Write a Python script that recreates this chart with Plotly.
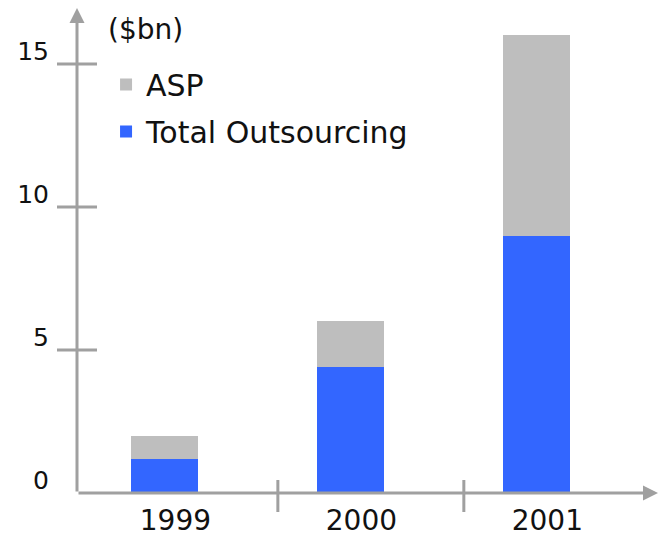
import plotly.graph_objects as go

years = ["1999", "2000", "2001"]
total_outsourcing = [1.2, 4.4, 9.0]
asp = [0.8, 1.6, 7.0]
y_ticks = [0, 5, 10, 15]
y_tick_text = ["0", "5", "10", "15"]

BLUE = "#3366FF"
GREY = "#BEBEBE"
AXIS = "#A0A0A0"
FONT = "DejaVu Sans"
TXT = "#111111"

xpos = list(range(len(years)))
x_min, x_max = -0.47, 2.654
y_max = 16.96

fig = go.Figure()
fig.add_trace(go.Bar(x=xpos, y=total_outsourcing, name="Total Outsourcing",
                     marker=dict(color=BLUE, line=dict(width=0)), width=0.36,
                     legendgroup="a", legendrank=2))
fig.add_trace(go.Bar(x=xpos, y=asp, name="ASP",
                     marker=dict(color=GREY, line=dict(width=0)), width=0.36,
                     legendgroup="b", legendrank=1))

# axis lines with arrowheads
fig.add_annotation(x=x_min, y=y_max, ax=x_min, ay=0, xref="x", yref="y",
                   axref="x", ayref="y", text="", showarrow=True, arrowhead=2,
                   arrowsize=1, arrowwidth=3, arrowcolor=AXIS, standoff=0)
fig.add_annotation(x=x_max, y=0, ax=x_min, ay=0, xref="x", yref="y",
                   axref="x", ayref="y", text="", showarrow=True, arrowhead=2,
                   arrowsize=1, arrowwidth=3, arrowcolor=AXIS, standoff=0)

# crossing tick marks on y axis
for v in y_ticks[1:]:
    fig.add_shape(type="line", xref="paper", yref="y", xsizemode="pixel", xanchor=0,
                  x0=-20, x1=20, y0=v, y1=v, line=dict(color=AXIS, width=3))
# category separators on x axis
for i in range(len(years) - 1):
    s = i + 0.61
    fig.add_shape(type="line", xref="x", yref="paper", ysizemode="pixel", yanchor=0,
                  y0=-19, y1=13, x0=s, x1=s, line=dict(color=AXIS, width=3))

fig.add_annotation(xref="paper", yref="paper", x=(106 - 77) / 581, y=(493 - 30) / 485,
                   xanchor="left", yanchor="middle", text="($bn)", showarrow=False,
                   font=dict(family=FONT, size=28, color=TXT))

fig.update_layout(
    width=661, height=538,
    margin=dict(l=77, r=3, t=8, b=45, autoexpand=False),
    paper_bgcolor="white", plot_bgcolor="white",
    barmode="stack", bargap=0,
    font=dict(family=FONT, size=28, color=TXT),
    showlegend=True,
    legend=dict(x=0.05, y=0.896, xanchor="left", yanchor="top",
                font=dict(family=FONT, size=30, color=TXT),
                traceorder="grouped", tracegroupgap=5,
                bgcolor="rgba(0,0,0,0)"),
    xaxis=dict(range=[x_min, x_max], tickvals=xpos, ticktext=years, showgrid=False,
               zeroline=False, showline=False, ticks="", ticklabelshift=11,
               ticklabelstandoff=8, automargin=False,
               tickfont=dict(family=FONT, size=28, color=TXT)),
    yaxis=dict(range=[0, y_max], tickvals=y_ticks, ticktext=y_tick_text, showgrid=False,
               zeroline=False, showline=False, ticks="", ticklabelshift=-13,
               ticklabelstandoff=27, automargin=False,
               tickfont=dict(family=FONT, size=25, color=TXT)),
)

fig.write_html("out.html", post_script="document.body.style.margin='0';",
               config={"displayModeBar": False})
